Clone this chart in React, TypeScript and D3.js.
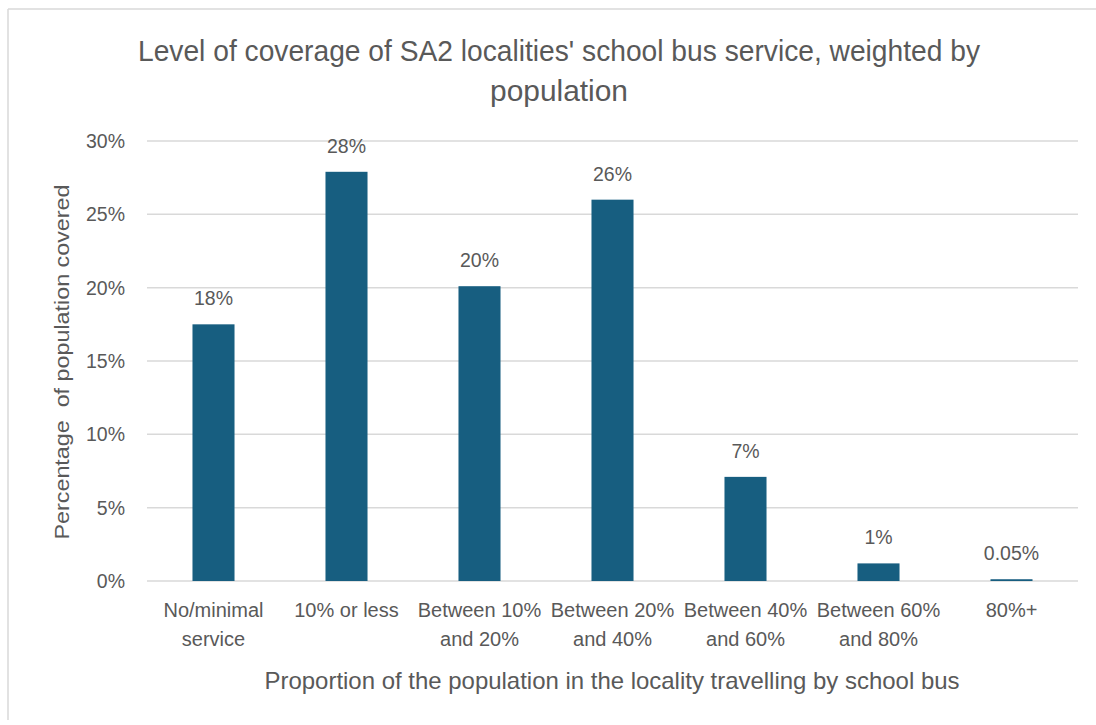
import React from "react";
import * as d3 from "d3";

const categories: string[][] = [
  ["No/minimal", "service"],
  ["10% or less"],
  ["Between 10%", "and 20%"],
  ["Between 20%", "and 40%"],
  ["Between 40%", "and 60%"],
  ["Between 60%", "and 80%"],
  ["80%+"],
];
const values: number[] = [17.5, 27.9, 20.1, 26.0, 7.1, 1.2, 0.12];
const valueLabels: string[] = ["18%", "28%", "20%", "26%", "7%", "1%", "0.05%"];
const yTicks: number[] = [0, 5, 10, 15, 20, 25, 30];
const titleLines: string[] = [
  "Level of coverage of SA2 localities' school bus service, weighted by",
  "population",
];
const titleWidths: number[] = [842, 138];
const xTitle = "Proportion of the population in the locality travelling by school bus";
const yTitle = "Percentage  of population covered";

const W = 1096;
const H = 725;
const left = 147;
const right = 1078;
const top = 141;
const bottom = 581;
const textColor = "#595959";
const barColor = "#175e80";
const gridColor = "#d9d9d9";
const sans = "'Liberation Sans', Arial, sans-serif";

export default function App() {
  const x = d3
    .scaleBand<number>()
    .domain(d3.range(categories.length))
    .range([left, right])
    .paddingInner(0.684)
    .paddingOuter(0.342);
  const y = d3.scaleLinear().domain([0, 30]).range([bottom, top]);
  const fmt = (d: number) => `${d}%`;

  return (
    <svg
      width={W}
      height={H}
      style={{ position: "absolute", left: 0, top: 0, background: "#fff" }}
    >
      <line x1={8} y1={9} x2={W} y2={9} stroke={gridColor} strokeWidth={1.5} />
      <line x1={8} y1={9} x2={8} y2={720} stroke={gridColor} strokeWidth={1.5} />

      {titleLines.map((t, i) => (
        <text
          key={i}
          x={559}
          y={61 + i * 40}
          textAnchor="middle"
          fontFamily={sans}
          fontSize={29}
          fill={textColor}
          textLength={titleWidths[i]}
          lengthAdjust="spacingAndGlyphs"
        >
          {t}
        </text>
      ))}

      {yTicks.map((t) => (
        <g key={t}>
          <line x1={left} x2={right} y1={y(t)} y2={y(t)} stroke={gridColor} strokeWidth={1.5} />
          <text
            x={125}
            y={y(t) + 7}
            textAnchor="end"
            fontFamily={sans}
            fontSize={19.5}
            fill={textColor}
          >
            {fmt(t)}
          </text>
        </g>
      ))}

      {values.map((v, i) => (
        <g key={i}>
          <rect
            x={x(i)}
            y={y(v)}
            width={x.bandwidth()}
            height={y(0) - y(v)}
            fill={barColor}
          />
          <text
            x={(x(i) as number) + x.bandwidth() / 2}
            y={y(v) - 19}
            textAnchor="middle"
            fontFamily={sans}
            fontSize={19.5}
            fill={textColor}
          >
            {valueLabels[i]}
          </text>
        </g>
      ))}

      {categories.map((lines, i) =>
        lines.map((l, j) => (
          <text
            key={`${i}-${j}`}
            x={(x(i) as number) + x.bandwidth() / 2}
            y={617 + j * 29}
            textAnchor="middle"
            fontFamily={sans}
            fontSize={20}
            fill={textColor}
          >
            {l}
          </text>
        ))
      )}

      <text
        x={612}
        y={689}
        textAnchor="middle"
        fontFamily={sans}
        fontSize={24}
        fill={textColor}
        textLength={695}
        lengthAdjust="spacingAndGlyphs"
      >
        {xTitle}
      </text>

      <text
        transform={`translate(69, 362) rotate(-90)`}
        textAnchor="middle"
        fontFamily={sans}
        fontSize={19.5}
        fill={textColor}
        style={{ whiteSpace: "pre" }}
        textLength={355}
        lengthAdjust="spacingAndGlyphs"
      >
        {yTitle}
      </text>
    </svg>
  );
}
